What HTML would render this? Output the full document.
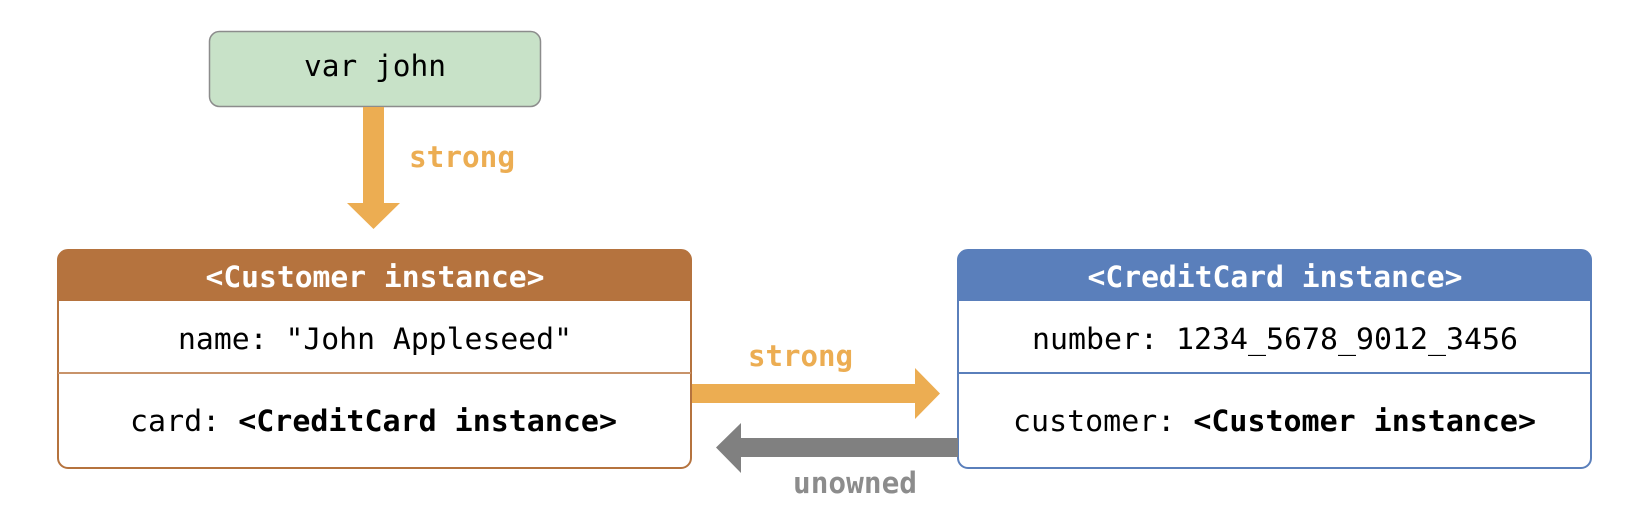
<!DOCTYPE html>
<html><head><meta charset="utf-8"><style>html,body{margin:0;padding:0;background:#fff;}svg{display:block}</style></head>
<body>
<svg width="1636" height="530" viewBox="0 0 1636 530" xmlns="http://www.w3.org/2000/svg" font-family="'DejaVu Sans Mono','Liberation Mono',monospace" font-size="29">
<rect x="209.5" y="31.5" width="331" height="75" rx="10" fill="#c8e2c8" stroke="#8c8c8c" stroke-width="1.5"/>
<text x="375" y="76" text-anchor="middle" textLength="142" lengthAdjust="spacingAndGlyphs">var john</text>
<rect x="363" y="107" width="21" height="96" fill="#ecad52"/>
<polygon points="347,203 400,203 373.5,229" fill="#ecad52"/>
<text x="409" y="167" font-weight="bold" fill="#ecad52" textLength="106" lengthAdjust="spacingAndGlyphs">strong</text>
<path d="M58,301 V260 a10,10 0 0 1 10,-10 H681 a10,10 0 0 1 10,10 V301 Z" fill="#b5733e"/>
<rect x="58" y="250" width="633" height="218" rx="10" fill="none" stroke="#b5733e" stroke-width="2"/>
<line x1="58" y1="373" x2="691" y2="373" stroke="#c8936a" stroke-width="2"/>
<text x="375" y="287" text-anchor="middle" font-weight="bold" fill="#fff" textLength="339" lengthAdjust="spacingAndGlyphs">&lt;Customer instance&gt;</text>
<text x="375" y="349" text-anchor="middle" textLength="394" lengthAdjust="spacingAndGlyphs">name: "John Appleseed"</text>
<text x="130" y="431" textLength="487" lengthAdjust="spacingAndGlyphs">card: <tspan font-weight="bold">&lt;CreditCard instance&gt;</tspan></text>
<path d="M958,301 V260 a10,10 0 0 1 10,-10 H1581 a10,10 0 0 1 10,10 V301 Z" fill="#5a7fbb"/>
<rect x="958" y="250" width="633" height="218" rx="10" fill="none" stroke="#5a7fbb" stroke-width="2"/>
<line x1="958" y1="373" x2="1591" y2="373" stroke="#5a7fbb" stroke-width="2"/>
<text x="1275" y="287" text-anchor="middle" font-weight="bold" fill="#fff" textLength="375" lengthAdjust="spacingAndGlyphs">&lt;CreditCard instance&gt;</text>
<text x="1275" y="349" text-anchor="middle" textLength="486" lengthAdjust="spacingAndGlyphs">number: 1234_5678_9012_3456</text>
<text x="1013" y="431" textLength="523" lengthAdjust="spacingAndGlyphs">customer: <tspan font-weight="bold">&lt;Customer instance&gt;</tspan></text>
<rect x="692" y="384" width="224" height="19" fill="#ecad52"/>
<polygon points="915,368 940,393.5 915,419" fill="#ecad52"/>
<text x="748" y="366" font-weight="bold" fill="#ecad52" textLength="105" lengthAdjust="spacingAndGlyphs">strong</text>
<rect x="740" y="438" width="218" height="19" fill="#808080"/>
<polygon points="741,423 716,447.5 741,473" fill="#808080"/>
<text x="793" y="493" font-weight="bold" fill="#8c8c8c" textLength="124" lengthAdjust="spacingAndGlyphs">unowned</text>
</svg>
</body></html>
